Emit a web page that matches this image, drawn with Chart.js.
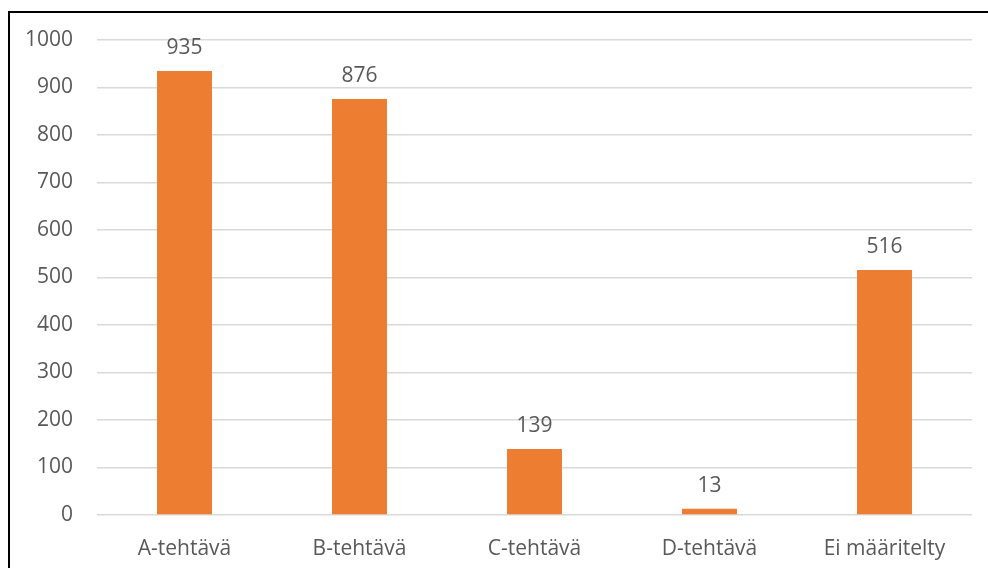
<!DOCTYPE html>
<html>
<head>
<meta charset="utf-8">
<script src="https://cdn.jsdelivr.net/npm/chart.js@4"></script>
<style>
  html, body { margin: 0; padding: 0; background: #fff; overflow: hidden; }
  #wrap { position: absolute; left: 0; top: 0; width: 988px; height: 568px; }
  #frame { position: absolute; left: 8px; top: 11px; width: 1000px; height: 600px; border: 2px solid #000; box-sizing: border-box; }
</style>
</head>
<body>
<div id="wrap">
  <div id="frame"></div>
  <canvas id="taskChart" width="988" height="568"></canvas>
</div>
<script>
const categories = ['A-tehtävä', 'B-tehtävä', 'C-tehtävä', 'D-tehtävä', 'Ei määritelty'];
const counts = [935, 876, 139, 13, 516];
const yTicks = [0, 100, 200, 300, 400, 500, 600, 700, 800, 900, 1000];

const fontFamily = '"Open Sans", "Noto Sans", sans-serif';
const textColor = '#595959';

// draws the value above each bar
const valueLabels = {
  id: 'valueLabels',
  afterDatasetsDraw(chart) {
    const ctx = chart.ctx;
    const meta = chart.getDatasetMeta(0);
    ctx.save();
    ctx.font = '21px ' + fontFamily;
    ctx.fillStyle = textColor;
    ctx.textAlign = 'center';
    ctx.textBaseline = 'bottom';
    meta.data.forEach(function (bar, i) {
      ctx.fillText(String(counts[i]), bar.x, bar.y - 12);
    });
    ctx.restore();
  }
};

const ctx = document.getElementById('taskChart').getContext('2d');
new Chart(ctx, {
  type: 'bar',
  data: {
    labels: categories,
    datasets: [{
      data: counts,
      backgroundColor: '#ED7D31',
      borderWidth: 0,
      categoryPercentage: 1,
      barPercentage: 0.314
    }]
  },
  options: {
    responsive: false,
    animation: false,
    layout: { padding: { top: 40, right: 16, left: 0, bottom: 0 } },
    plugins: { legend: { display: false }, tooltip: { enabled: false } },
    scales: {
      x: {
        grid: { display: false, drawTicks: false },
        border: { display: false },
        ticks: { color: textColor, font: { family: fontFamily, size: 21 }, padding: 21 },
        afterFit(scale) { scale.height = 53; }
      },
      y: {
        min: 0,
        max: 1000,
        afterBuildTicks(scale) { scale.ticks = yTicks.map(v => ({ value: v })); },
        grid: { color: '#d9d9d9', lineWidth: 1.5, drawTicks: false },
        border: { display: false },
        ticks: {
          color: textColor,
          font: { family: fontFamily, size: 21 },
          padding: 24,
          callback: v => String(v)
        },
        afterFit(scale) { scale.width = 97; }
      }
    }
  },
  plugins: [valueLabels]
});
</script>
</body>
</html>
